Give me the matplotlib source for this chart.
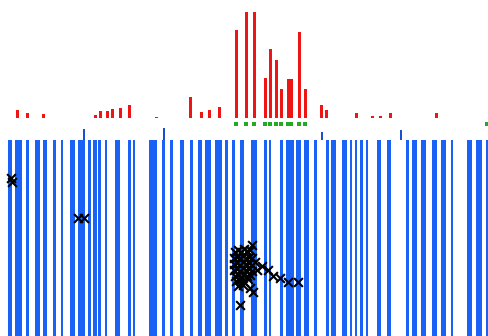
import matplotlib
matplotlib.use('Agg')
import matplotlib.pyplot as plt

# coverage stripes (start, end) along the track
stripe_start = [8, 15, 26, 35, 43, 53, 61, 70, 78, 88, 93, 98, 105, 115, 128, 133, 149, 162, 170, 180,
                190, 198, 205, 215, 225, 232, 240, 251, 264, 269, 280, 286, 296, 304, 314, 326, 331, 342,
                350, 355, 360, 366, 377, 387, 406, 412, 421, 432, 441, 451, 467, 476, 486]
stripe_end = [12, 22, 29, 40, 47, 56, 63, 75, 85, 91, 97, 101, 107, 120, 131, 135, 157, 165, 173, 184,
              193, 202, 211, 222, 228, 235, 244, 257, 267, 271, 283, 294, 301, 309, 317, 329, 336, 347,
              352, 357, 363, 368, 381, 391, 409, 417, 426, 437, 446, 453, 472, 482, 488]

# short blue ticks above the stripes
tick_pos = [84, 164, 322, 401]
tick_val = [11, 12, 8, 10]

# red signal
red_pos = [17, 27, 43, 95, 100, 107, 112, 120, 129, 156, 190, 201, 209, 219, 236,
           246, 254, 265, 270, 276, 281, 288, 291, 299, 305, 321, 326, 356, 372, 380, 390, 436]
red_val = [8, 5, 4, 3, 7, 7, 9, 10, 13, 1, 21, 6, 8, 11, 88,
           106, 106, 40, 69, 58, 29, 39, 39, 86, 29, 13, 8, 5, 2, 2, 5, 5]

# green hits
green_pos = [236, 246, 254, 265, 270, 276, 281, 288, 291, 299, 305, 487]

# black crosses
cross_x = [11, 12, 78, 84,
           235, 238, 241, 244, 247, 250, 252,
           234, 237, 240, 243, 246, 249, 252,
           234, 237, 240, 243, 246, 249, 252, 255,
           234, 237, 240, 243, 246, 249, 252,
           235, 238, 241, 244, 247, 250,
           236, 240, 244, 248,
           238, 243, 250, 253,
           257, 262, 268, 273, 280, 288, 298, 240]
cross_y = [178, 182, 218, 218,
           252, 250, 252, 249, 251, 250, 245,
           258, 257, 258, 256, 258, 257, 258,
           264, 263, 265, 262, 264, 263, 265, 262,
           270, 269, 271, 268, 270, 269, 271,
           276, 275, 277, 274, 276, 275,
           281, 280, 282, 279,
           286, 285, 288, 292,
           270, 266, 270, 276, 278, 282, 282, 305]

fig = plt.figure(figsize=(4.88, 3.36), dpi=100)
ax = fig.add_axes([0, 0, 1, 1])

ax.bar(stripe_start, 200, width=[e - s for s, e in zip(stripe_start, stripe_end)],
       bottom=140, align='edge', color='#1a62f5', linewidth=0)
ax.bar(tick_pos, [-v for v in tick_val], width=2, bottom=140, color='#1a4fd0', linewidth=0)
ax.bar(red_pos, [-v for v in red_val], width=3, bottom=118, color='#ee1515', linewidth=0)
ax.scatter(green_pos, [124] * len(green_pos), marker='s', s=6, color='#22aa22', linewidths=0)
ax.scatter(cross_x, cross_y, marker='x', s=40, color='black', linewidths=1.5)

ax.set_xlim(0, 488)
ax.set_ylim(336, 0)
ax.axis('off')

fig.savefig('out.png', dpi=100)
